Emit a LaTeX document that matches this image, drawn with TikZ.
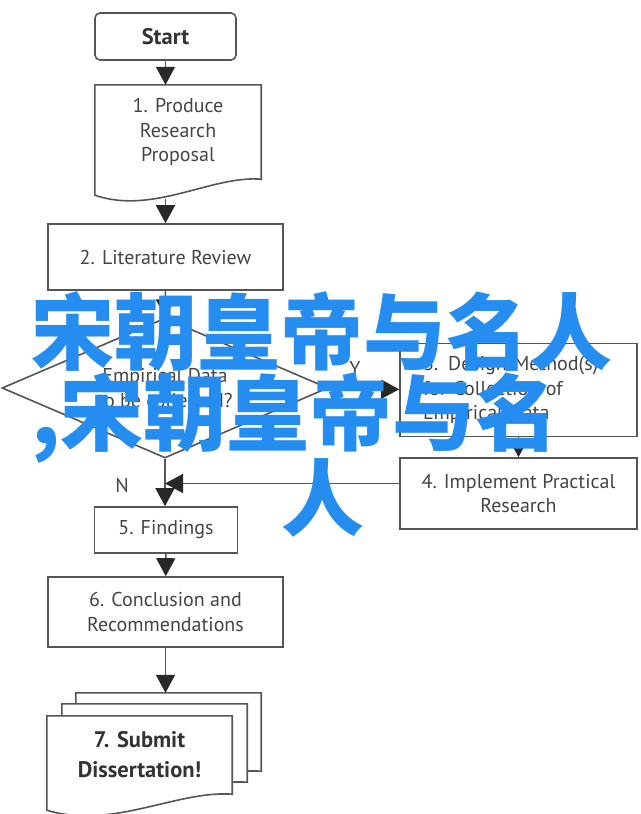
\documentclass[tikz,border=0pt]{standalone}
\usepackage{fontspec}
\setmainfont{PT Sans}
\newfontfamily\cjk{Noto Sans CJK SC}
\usetikzlibrary{arrows.meta,shapes.geometric,calc,backgrounds}

\definecolor{linegray}{RGB}{85,85,85}
\definecolor{tipgray}{RGB}{40,40,40}
\definecolor{textgray}{RGB}{68,68,68}
\definecolor{markblue}{RGB}{37,140,240}

% sheet with a wavy lower edge, drawn round a node
\newcommand{\paperframe}[1]{%
  \filldraw[frame, fill=white] (#1.north west) -- (#1.north east) -- (#1.south east)
    .. controls ($(#1.south east)!0.3!(#1.south west)+(0,-4)$) and ($(#1.south west)!0.35!(#1.south east)+(0,36)$) .. ($(#1.south west)+(0,16)$) -- cycle;}

\begin{document}
\begin{tikzpicture}[x=1pt, y=-1pt, font=\fontsize{20}{24.5}\selectfont, text=textgray]
            \tikzset{
                frame/.style={draw=linegray, line width=1.6pt},
                box/.style={frame, rectangle, inner sep=0pt, align=center},
                paper/.style={rectangle, inner sep=0pt, align=center},
                heavy/.style={font=\bfseries\fontsize{22.5}{30}\selectfont, text=black!80},
                flow/.style={draw=linegray, line width=1.6pt, -{Triangle[width=19pt, length=18pt, color=tipgray]}},
                watermark/.style={font=\cjk\bfseries\fontsize{83}{85}\selectfont, text=markblue, inner sep=0pt}
            }
            \useasboundingbox (0,0) rectangle (640,814);

            \draw node[box, rounded corners=5pt, minimum width=141pt, minimum height=47pt, heavy] (start) at (165.5,36.5) {Start};
            \node[paper, minimum width=166pt, minimum height=94pt] (p1) at (178,132) {1. Produce\\Research\\Proposal};
            \draw node[box, minimum width=235pt, minimum height=66pt] (b2) at (165.5,257) {2. Literature Review};
            \draw node[frame, diamond, aspect=2.33, minimum width=326pt, minimum height=140pt, inner sep=0pt, align=center] (q) at (165,388) {Empirical Data\\to be collected?};
            \draw node[box, minimum width=237pt, minimum height=93pt, text width=191pt, align=left] (b3) at (518.5,390) {3. Design Method(s)\\for Collection of\\Empirical Data};
            \draw node[box, minimum width=237pt, minimum height=71pt] (b4) at (518.5,493.5) {4. Implement Practical\\Research};
            \draw node[box, minimum width=143pt, minimum height=46pt] (b5) at (166,530) {5. Findings};
            \draw node[box, minimum width=235pt, minimum height=70pt] (b6) at (165.5,612) {6. Conclusion and\\Recommendations};
            \node[paper, minimum width=185pt, minimum height=78pt] (s3) at (168.5,732) {};
            \node[paper, minimum width=185pt, minimum height=78pt] (s2) at (154.5,743) {};
            \node[paper, minimum width=185pt, minimum height=78pt, heavy] (p7) at (139.5,755) {7. Submit\\Dissertation!};

            \begin{pgfonlayer}{background}
                \fill[white] (0,0) rectangle (640,814);
                \paperframe{p1}
                \paperframe{s3}
                \paperframe{s2}
                \paperframe{p7}
            \end{pgfonlayer}

            \coordinate (p1b) at (165.5,199);
            \coordinate (b4in) at ([yshift=10pt]b4.west);

            \foreach \x/\y in {%
                p1b/b2, b2/q, q/b3, b3/b4, b5/b6%
            }{
            \draw[flow] (\x) -- (\y);
            }
            \draw[flow] (start) -- (start |- p1.north);
            \draw[flow] (q) -- (q |- b5.north);
            \draw[flow] (b4in) -- (b4in -| q);
            \draw[flow] (b6) -- (b6 |- s3.north);

            \node (yes) at (355,368) {Y};
            \node (no) at (122,485) {N};

            \node[watermark, anchor=west] (mark1) at (31,332) {宋朝皇帝与名人};
            \node[watermark, anchor=west] (mark2) at (31,418) {,宋朝皇帝与名};
            \node[watermark, anchor=west] (mark3) at (281,498) {人};
        \end{tikzpicture}
\end{document}
